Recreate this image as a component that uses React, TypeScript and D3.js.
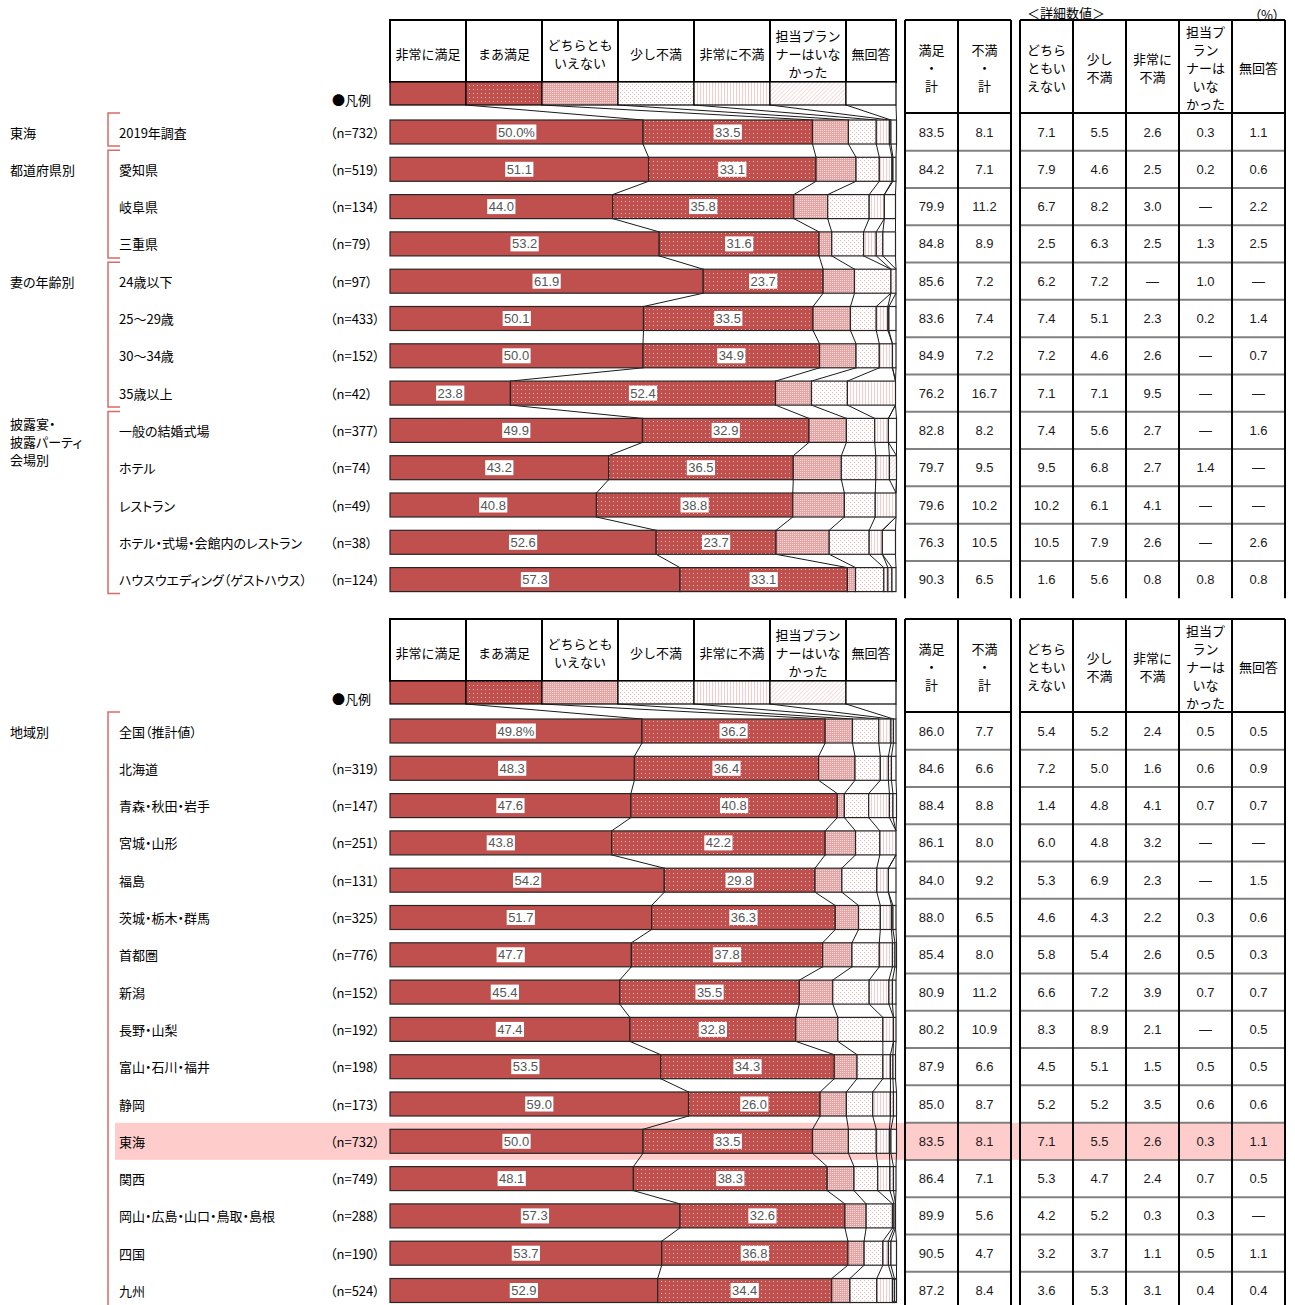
import React from 'react';
import * as d3 from 'd3';

const answers = ['非常に満足', 'まあ満足', 'どちらともいえない', '少し不満', '非常に不満', '担当プランナーはいなかった', '無回答'];
const answerHead = [['非常に満足'], ['まあ満足'], ['どちらとも', 'いえない'], ['少し不満'], ['非常に不満'], ['担当プラン', 'ナーはいな', 'かった'], ['無回答']];
const totalHead = [['満足', '・', '計'], ['不満', '・', '計']];
const detailHead = [['どちら', 'ともい', 'えない'], ['少し', '不満'], ['非常に', '不満'], ['担当プ', 'ラン', 'ナーは', 'いな', 'かった'], ['無回答']];

// 上段（東海の属性別）
const topNames = ['2019年調査', '愛知県', '岐阜県', '三重県', '24歳以下', '25～29歳', '30～34歳', '35歳以上', '一般の結婚式場', 'ホテル', 'レストラン', 'ホテル・式場・会館内のレストラン', 'ハウスウエディング（ゲストハウス）'];
const topN = [732, 519, 134, 79, 97, 433, 152, 42, 377, 74, 49, 38, 124];
const topGroups = [
  { label: ['東海'], from: 0, to: 0 },
  { label: ['都道府県別'], from: 1, to: 3 },
  { label: ['妻の年齢別'], from: 4, to: 7 },
  { label: ['披露宴・', '披露パーティ', '会場別'], from: 8, to: 12 },
];
const topVerySat = [50.0, 51.1, 44.0, 53.2, 61.9, 50.1, 50.0, 23.8, 49.9, 43.2, 40.8, 52.6, 57.3];
const topSat = [33.5, 33.1, 35.8, 31.6, 23.7, 33.5, 34.9, 52.4, 32.9, 36.5, 38.8, 23.7, 33.1];
const topNeutral = [7.1, 7.9, 6.7, 2.5, 6.2, 7.4, 7.2, 7.1, 7.4, 9.5, 10.2, 10.5, 1.6];
const topSlight = [5.5, 4.6, 8.2, 6.3, 7.2, 5.1, 4.6, 7.1, 5.6, 6.8, 6.1, 7.9, 5.6];
const topVeryDis = [2.6, 2.5, 3.0, 2.5, null, 2.3, 2.6, 9.5, 2.7, 2.7, 4.1, 2.6, 0.8];
const topNoPlanner = [0.3, 0.2, null, 1.3, 1.0, 0.2, null, null, null, 1.4, null, null, 0.8];
const topNoAnswer = [1.1, 0.6, 2.2, 2.5, null, 1.4, 0.7, null, 1.6, null, null, 2.6, 0.8];
const topSatTotal = [83.5, 84.2, 79.9, 84.8, 85.6, 83.6, 84.9, 76.2, 82.8, 79.7, 79.6, 76.3, 90.3];
const topDisTotal = [8.1, 7.1, 11.2, 8.9, 7.2, 7.4, 7.2, 16.7, 8.2, 9.5, 10.2, 10.5, 6.5];

// 下段（地域別）
const regNames = ['全国（推計値）', '北海道', '青森・秋田・岩手', '宮城・山形', '福島', '茨城・栃木・群馬', '首都圏', '新潟', '長野・山梨', '富山・石川・福井', '静岡', '東海', '関西', '岡山・広島・山口・鳥取・島根', '四国', '九州'];
const regN = [null, 319, 147, 251, 131, 325, 776, 152, 192, 198, 173, 732, 749, 288, 190, 524];
const regGroups = [{ label: ['地域別'], from: 0, to: 16 }];
const regVerySat = [49.8, 48.3, 47.6, 43.8, 54.2, 51.7, 47.7, 45.4, 47.4, 53.5, 59.0, 50.0, 48.1, 57.3, 53.7, 52.9];
const regSat = [36.2, 36.4, 40.8, 42.2, 29.8, 36.3, 37.8, 35.5, 32.8, 34.3, 26.0, 33.5, 38.3, 32.6, 36.8, 34.4];
const regNeutral = [5.4, 7.2, 1.4, 6.0, 5.3, 4.6, 5.8, 6.6, 8.3, 4.5, 5.2, 7.1, 5.3, 4.2, 3.2, 3.6];
const regSlight = [5.2, 5.0, 4.8, 4.8, 6.9, 4.3, 5.4, 7.2, 8.9, 5.1, 5.2, 5.5, 4.7, 5.2, 3.7, 5.3];
const regVeryDis = [2.4, 1.6, 4.1, 3.2, 2.3, 2.2, 2.6, 3.9, 2.1, 1.5, 3.5, 2.6, 2.4, 0.3, 1.1, 3.1];
const regNoPlanner = [0.5, 0.6, 0.7, null, null, 0.3, 0.5, 0.7, null, 0.5, 0.6, 0.3, 0.7, 0.3, 0.5, 0.4];
const regNoAnswer = [0.5, 0.9, 0.7, null, 1.5, 0.6, 0.3, 0.7, 0.5, 0.5, 0.6, 1.1, 0.5, null, 1.1, 0.4];
const regSatTotal = [86.0, 84.6, 88.4, 86.1, 84.0, 88.0, 85.4, 80.9, 80.2, 87.9, 85.0, 83.5, 86.4, 89.9, 90.5, 87.2];
const regDisTotal = [7.7, 6.6, 8.8, 8.0, 9.2, 6.5, 8.0, 11.2, 10.9, 6.6, 8.7, 8.1, 7.1, 5.6, 4.7, 8.4];
const regHighlight = 11;

const JP = '"Noto Sans CJK JP", sans-serif';
const NUM = '"Liberation Sans", Arial, sans-serif';
const fills = ['#c0504d', 'url(#pSat)', 'url(#pNeu)', 'url(#pSlight)', 'url(#pVeryDis)', 'url(#pNone)', '#ffffff'];
const pitch = 37.3;
const x = d3.scaleLinear().domain([0, 100]).range([390, 896]);
const legendX = d3.range(8).map(i => (i < 7 ? 390 + i * 76 : 896));
const t1 = [905, 958, 1011];
const t2 = [1020, 1073, 1126, 1179, 1232, 1285];

type Group = { label: string[]; from: number; to: number };
interface BlockProps {
  first: number;
  names: string[];
  ns: (number | null)[];
  groups: Group[];
  series: (number | null)[][];
  satTotal: number[];
  disTotal: number[];
  highlight?: number;
}

const fmt = (v: number | null) => (v == null ? '—' : v.toFixed(1));

function Lines({ lines, cx, cy, size = 13 }: { lines: string[]; cx: number; cy: number; size?: number }) {
  const gap = 18;
  const start = cy - ((lines.length - 1) * gap) / 2;
  return (
    <text x={cx} textAnchor="middle" fontFamily={JP} fontSize={size} fill="#000">
      {lines.map((l, k) => (
        <tspan key={k} x={cx} y={start + k * gap} dominantBaseline="central">{l}</tspan>
      ))}
    </text>
  );
}

function Block({ first, names, ns, groups, series, satTotal, disTotal, highlight }: BlockProps) {
  const n = names.length;
  const y = d3.scaleLinear().domain([0, n - 1]).range([first, first + (n - 1) * pitch]);
  const keys = answers;
  const table = names.map((_, i) => Object.fromEntries(keys.map((k, j) => [k, series[j][i] ?? 0])));
  const stacked = d3.stack<any>().keys(keys)(table);
  const bh = 12;
  const top = first - 112;
  const legTop = first - 50;
  const legBot = first - 27;
  const headBot = first - 19;
  const tableBottom = y(n - 1) + pitch / 2;

  const connectors: string[] = [];
  stacked.forEach((s, j) => {
    connectors.push(`M${legendX[j + 1]},${legBot}L${x(s[0][1])},${y(0) - bh}`);
    for (let i = 0; i < n - 1; i++) {
      connectors.push(`M${x(s[i][1])},${y(i) + bh}L${x(s[i + 1][1])},${y(i + 1) - bh}`);
    }
  });

  const drawTable = (cols: number[], heads: string[][], values: (number | null)[][]) => (
    <g>
      {values[0].map((_, i) =>
        i > 0 ? <line key={'h' + i} x1={cols[0]} x2={cols[cols.length - 1]} y1={y(i) - pitch / 2} y2={y(i) - pitch / 2} stroke="#808080" strokeWidth={2} /> : null
      )}
      <line x1={cols[0]} x2={cols[cols.length - 1]} y1={headBot} y2={headBot} stroke="#000" strokeWidth={2} />
      <line x1={cols[0]} x2={cols[cols.length - 1]} y1={top} y2={top} stroke="#000" strokeWidth={2} />
      {cols.map((c, k) => (
        <line key={'v' + k} x1={c} x2={c} y1={top} y2={tableBottom} stroke="#000" strokeWidth={2} />
      ))}
      {heads.map((h, k) => (
        <Lines key={'t' + k} lines={h} cx={(cols[k] + cols[k + 1]) / 2} cy={first - 65} />
      ))}
      {values.map((col, k) =>
        col.map((v, i) => (
          <text key={k + '-' + i} x={(cols[k] + cols[k + 1]) / 2} y={y(i)} dominantBaseline="central" textAnchor="middle"
            fontFamily={NUM} fontSize={13} fill="#1a1a1a">{fmt(v)}</text>
        ))
      )}
    </g>
  );

  return (
    <g>
      {highlight != null && (
        <rect x={115} width={1285 - 115} y={y(highlight) - 18.5} height={37} fill="#ffcccc" />
      )}

      {/* left labels */}
      {groups.map((g, k) => (
        <g key={'g' + k}>
          <text fontFamily={JP} fontSize={13} style={{ fontFeatureSettings: '"palt"' }}>
            {g.label.map((l, m) => (
              <tspan key={m} x={10} y={y(g.from) - (g.label.length > 1 ? 7 : 0) + m * 18} dominantBaseline="central">{l}</tspan>
            ))}
          </text>
          <path d={`M120,${y(g.from) - 19}H108V${y(Math.min(g.to, n - 1)) + (g.to >= n ? 40 : 14)}H120`} fill="none" stroke="#d86a68" strokeWidth={1.5} />
        </g>
      ))}
      {names.map((nm, i) => (
        <g key={'n' + i}>
          <text x={119} y={y(i)} dominantBaseline="central" fontFamily={JP} fontSize={13} style={{ fontFeatureSettings: '"palt"' }}>{nm}</text>
          {ns[i] != null && (
            <text x={330} y={y(i)} dominantBaseline="central" fontFamily={JP} fontSize={13} style={{ fontFeatureSettings: '"palt"' }}>{`（n=${ns[i]}）`}</text>
          )}
        </g>
      ))}
      <text x={332} y={first - 33} dominantBaseline="central" fontFamily={JP} fontSize={13} style={{ fontFeatureSettings: '"palt"' }}>●凡例</text>

      {/* header + legend */}
      <rect x={390} y={top} width={896 - 390} height={legTop - top} fill="#fff" stroke="#000" strokeWidth={2} />
      {legendX.map((lx, k) => (
        <line key={'hl' + k} x1={lx} x2={lx} y1={top} y2={legTop} stroke="#000" strokeWidth={2} />
      ))}
      {answerHead.map((h, k) => (
        <Lines key={'ah' + k} lines={h} cx={(legendX[k] + legendX[k + 1]) / 2} cy={first - 79} />
      ))}
      {answers.map((a, k) => (
        <rect key={'lg' + k} x={legendX[k]} y={legTop} width={legendX[k + 1] - legendX[k]} height={legBot - legTop}
          fill={fills[k]} stroke="#000" strokeWidth={1.2} />
      ))}

      {/* connectors */}
      <path d={connectors.join('')} fill="none" stroke="#1a1a1a" strokeWidth={1} />

      {/* bars */}
      {stacked.map((s, j) =>
        s.map((d, i) => (
          <rect key={j + '-' + i} x={x(d[0])} y={y(i) - bh} width={Math.max(0, x(d[1]) - x(d[0]))} height={bh * 2}
            fill={fills[j]} stroke="#262626" strokeWidth={1.2} />
        ))
      )}
      {stacked.slice(0, 2).map((s, j) =>
        s.map((d, i) => {
          const v = d[1] - d[0];
          const label = v.toFixed(1) + (i === 0 && j === 0 ? '%' : '');
          const w = label.replace(/[.%]/g, '').length * 7.2 + (label.includes('%') ? 11.5 : 0) + 3.6 + 3;
          const cx = x((d[0] + d[1]) / 2);
          return (
            <g key={'lb' + j + '-' + i}>
              <rect x={cx - w / 2} y={y(i) - 7.5} width={w} height={15} fill="#fff" />
              <text x={cx} y={y(i)} dominantBaseline="central" textAnchor="middle" fontFamily={NUM} fontSize={13} fill="#555">{label}</text>
            </g>
          );
        })
      )}

      {/* detail tables */}
      {drawTable(t1, totalHead, [satTotal, disTotal])}
      {drawTable(t2, detailHead, series.slice(2))}
    </g>
  );
}

export default function App() {
  return (
    <svg width={1295} height={1305} style={{ position: 'absolute', left: 0, top: 0, background: '#fff' }}>
      <defs>
        <pattern id="pSat" width={4} height={4} patternUnits="userSpaceOnUse">
          <rect width={4} height={4} fill="#c0504d" />
          <rect x={1} y={1} width={1} height={1} fill="#f0b8b6" />
        </pattern>
        <pattern id="pNeu" width={2} height={2} patternUnits="userSpaceOnUse">
          <rect width={2} height={2} fill="#e4a6a5" />
          <rect width={1} height={1} fill="#f6dad9" />
        </pattern>
        <pattern id="pSlight" width={4} height={4} patternUnits="userSpaceOnUse">
          <rect width={4} height={4} fill="#fff" />
          <rect x={0} y={0} width={1} height={1} fill="#eeb2b2" />
          <rect x={2} y={2} width={1} height={1} fill="#eeb2b2" />
        </pattern>
        <pattern id="pVeryDis" width={3} height={3} patternUnits="userSpaceOnUse">
          <rect width={3} height={3} fill="#fff" />
          <rect x={1} width={1} height={3} fill="#f5cccc" />
        </pattern>
        <pattern id="pNone" width={3} height={3} patternUnits="userSpaceOnUse" patternTransform="rotate(45)">
          <rect width={3} height={3} fill="#fff" />
          <rect width={1} height={3} fill="#f3dcdc" />
        </pattern>
      </defs>
      <text x={1066} y={12} textAnchor="middle" dominantBaseline="central" fontFamily={JP} fontSize={13}>＜詳細数値＞</text>
      <text x={1267} y={14} textAnchor="middle" dominantBaseline="central" fontFamily={JP} fontSize={13} style={{ fontFeatureSettings: '"palt"' }}>（%）</text>
      <Block first={132} names={topNames} ns={topN} groups={topGroups}
        series={[topVerySat, topSat, topNeutral, topSlight, topVeryDis, topNoPlanner, topNoAnswer]}
        satTotal={topSatTotal} disTotal={topDisTotal} />
      <Block first={731} names={regNames} ns={regN} groups={regGroups}
        series={[regVerySat, regSat, regNeutral, regSlight, regVeryDis, regNoPlanner, regNoAnswer]}
        satTotal={regSatTotal} disTotal={regDisTotal} highlight={regHighlight} />
    </svg>
  );
}
